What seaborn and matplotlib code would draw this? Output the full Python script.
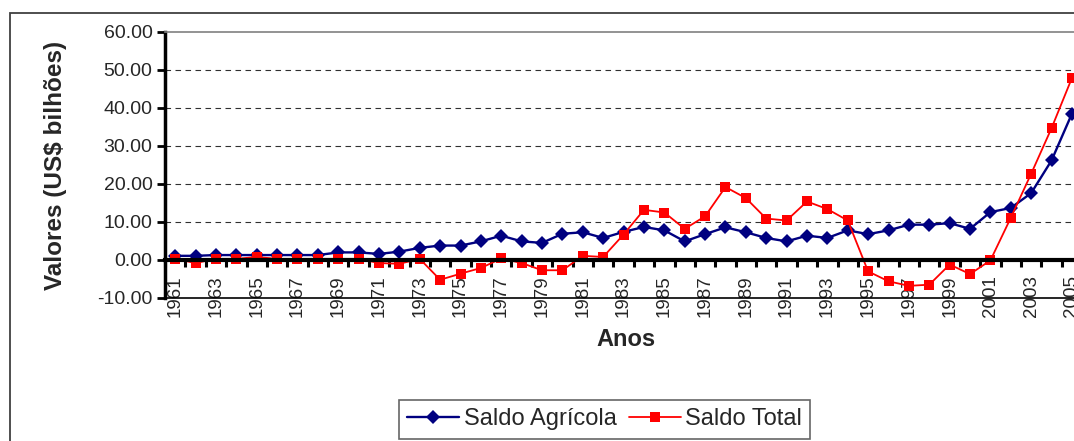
import numpy as np
import pandas as pd
import matplotlib
matplotlib.use('Agg')
import matplotlib.pyplot as plt
import matplotlib.ticker as mticker
from matplotlib.patches import Rectangle
import seaborn as sns

# ─── DATA ────────────────────────────────────────────
anos = list(range(1961, 2006))
saldo_agricola = [1.1, 1.1, 1.3, 1.3, 1.3, 1.3, 1.3, 1.3, 2.0, 2.0,
                  1.6, 2.2, 3.2, 3.8, 3.8, 4.9, 6.4, 4.9, 4.5, 6.9,
                  7.3, 5.8, 7.4, 8.7, 7.8, 4.9, 6.8, 8.6, 7.3, 5.8,
                  4.9, 6.4, 5.8, 7.8, 6.8, 7.8, 9.3, 9.3, 9.7, 8.2,
                  12.6, 13.7, 17.6, 26.2, 38.5]
saldo_total = [0.3, -0.8, 0.3, 0.3, 0.8, 0.3, 0.3, 0.3, 0.3, 0.3,
               -0.8, -1.0, 0.3, -5.2, -3.6, -2.1, 0.4, -0.8, -2.7, -2.7,
               1.1, 0.8, 6.7, 13.2, 12.5, 8.2, 11.5, 19.2, 16.3, 10.9,
               10.4, 15.4, 13.4, 10.4, -3.0, -5.6, -6.8, -6.5, -1.2, -3.7,
               -0.1, 11.1, 22.7, 34.7, 47.9]
series = ['Saldo Agrícola', 'Saldo Total']
cores = {'Saldo Agrícola': '#000080', 'Saldo Total': '#FF0000'}
marcadores = {'Saldo Agrícola': 'D', 'Saldo Total': 's'}
yticks = [-10, 0, 10, 20, 30, 40, 50, 60]
xlabels = anos[::2]

df = pd.DataFrame({
    'ano': anos * 2,
    'serie': [series[0]] * len(anos) + [series[1]] * len(anos),
    'valor': saldo_agricola + saldo_total,
})

# ─── STYLE ────────────────────────────────────────────
sns.set_theme(style='white')
plt.rcParams['font.family'] = ['Liberation Sans', 'DejaVu Sans']

W, H = 1074, 441
fig = plt.figure(figsize=(W / 100, H / 100), dpi=100)

# plot area in pixels: left 165, top 32, bottom 298, right beyond the image
left, top, bottom, right = 165, 32, 298, 1102.5
ax = fig.add_axes([left / W, 1 - bottom / H, (right - left) / W, (bottom - top) / H])

# outer chart frame
fig.patches.append(Rectangle((10 / W, -0.2), 2, 1.2 - 13 / H, transform=fig.transFigure,
                             fill=False, edgecolor='#404040', linewidth=1.3))

sns.lineplot(data=df, x='ano', y='valor', hue='serie', style='serie',
             palette=cores, markers=marcadores, dashes=False, ax=ax,
             markeredgewidth=0, legend=False)
for line, s in zip(ax.get_lines(), series):
    if s == 'Saldo Agrícola':
        line.set_linewidth(1.7)
        line.set_markersize(7.5)
    else:
        line.set_linewidth(1.3)
        line.set_markersize(7.5)

ax.set_xlim(1960.5, 2006.5)
ax.set_ylim(-10, 60)

# y axis
ax.set_yticks(yticks)
ax.yaxis.set_major_formatter(mticker.FormatStrFormatter('%.2f'))
ax.tick_params(axis='y', which='major', direction='out', length=6, width=2,
               color='black', labelsize=14, pad=3, left=True)
ax.spines['left'].set_linewidth(2.5)
ax.spines['left'].set_color('black')

# dashed gridlines
ax.grid(axis='y', color='#303030', linestyle=(0, (5, 4)), linewidth=0.8)
gl = ax.yaxis.get_gridlines()
for g in (gl[0], gl[1], gl[-1]):
    g.set_visible(False)

# x axis crosses at zero
ax.spines['bottom'].set_position(('data', 0))
ax.spines['bottom'].set_linewidth(3)
ax.spines['bottom'].set_color('black')
ax.set_xticks(xlabels)
ax.set_xticklabels([str(a) for a in xlabels], rotation=90, va='top', ha='center')
ax.xaxis.set_minor_locator(mticker.FixedLocator(np.arange(1960.5, 2007, 1)))
ax.tick_params(axis='x', which='major', length=0, labelsize=13.5, pad=11, bottom=True)
ax.tick_params(axis='x', which='minor', direction='out', length=5, width=2.2,
               color='black', bottom=True)

ax.spines['top'].set_color('#808080')
ax.spines['top'].set_linewidth(1.2)
ax.spines['right'].set_visible(False)
# bottom border of plot area
ax.plot([0, 1], [0, 0], transform=ax.transAxes, color='black', linewidth=1.2,
        clip_on=False, zorder=1)

ax.set_ylabel('Valores (US$ bilhões)', fontsize=17.5, fontweight='bold')
ax.yaxis.set_label_coords((67 - left) / (right - left), 0.5)
ax.set_xlabel('Anos', fontsize=17, fontweight='bold')
ax.xaxis.set_label_coords((626 - left) / (right - left), (bottom - 328) / (bottom - top))

handles = [plt.Line2D([], [], color=cores[s], marker=marcadores[s],
                      markersize=7, markeredgewidth=0,
                      linewidth=1.7 if s == 'Saldo Agrícola' else 1.3) for s in series]
leg = fig.legend(handles, series, loc='upper left', bbox_to_anchor=(399 / W, 1 - 400 / H),
                 fontsize=17, frameon=True, fancybox=False, edgecolor='#404040',
                 handlelength=2.2, handletextpad=0.2, columnspacing=0.5, ncol=2,
                 borderpad=0.35, borderaxespad=0)
leg.get_frame().set_linewidth(1.2)

fig.savefig('out.png', dpi=100)
